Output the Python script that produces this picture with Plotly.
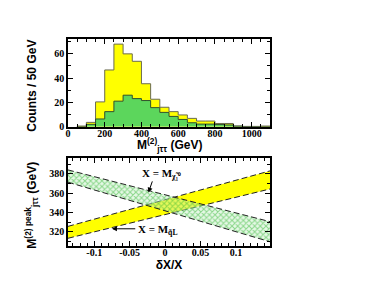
import plotly.graph_objects as go
from plotly.subplots import make_subplots

# ---- top panel data (50 GeV bins, lower edges) ----
bin_low = [50, 100, 150, 200, 250, 300, 350, 400, 450, 500, 550, 600, 650, 700,
           750, 800, 850, 900, 950, 1000, 1050]
bin_width = 50
counts_all = [0.6, 3.6, 20.4, 46.6, 67.8, 59.8, 53.7, 35.3, 22.6, 16.0, 12.4, 9.7,
              6.9, 4.7, 4.7, 2.7, 2.7, 0.6, 0.3, 0.3, 0.6]
counts_sel = [0.0, 2.0, 6.4, 12.4, 21.0, 25.9, 23.1, 21.5, 15.7, 11.8, 8.5, 6.0,
              3.3, 2.2, 2.2, 1.8, 1.5, 0.5, 0.0, 0.0, 0.0]

# ---- bottom panel data ----
dx = [-0.137, 0.148]
chi_upper = [383.9, 330.4]
chi_lower = [371.2, 309.6]
sq_upper = [325.5, 382.9]
sq_lower = [313.2, 364.2]

x_ticks_bottom = [-0.1, -0.05, 0, 0.05, 0.1]
x_ticklabels_bottom = ["-0.1", "-0.05", "0", "0.05", "0.1"]
y_ticks_bottom = [320, 340, 360, 380]
x_ticks_top = [0, 200, 400, 600, 800, 1000]
y_ticks_top = [0, 20, 40, 60]

fig = make_subplots(rows=2, cols=1, vertical_spacing=0.152)


def steps(lows, vals, w):
    xs = [lows[0]] + lows + [lows[-1] + w]
    ys = [0] + vals + [vals[-1]]
    return xs, ys


xa, ya = steps(bin_low, counts_all, bin_width)
xs, ys = steps(bin_low, counts_sel, bin_width)
fig.add_trace(go.Scatter(x=xa, y=ya, mode="lines", line=dict(shape="hv", color="#6b6b50", width=1),
                         fill="tozeroy", fillcolor="#ffff00", showlegend=False), row=1, col=1)
fig.add_trace(go.Scatter(x=xs, y=ys, mode="lines", line=dict(shape="hv", color="#2f4f2f", width=1),
                         fill="tozeroy", fillcolor="#5cd65c", showlegend=False), row=1, col=1)

dash_line = dict(color="#222222", width=1, dash="6px,3px")
# yellow band
fig.add_trace(go.Scatter(x=dx, y=sq_lower, mode="lines", line=dash_line, showlegend=False), row=2, col=1)
fig.add_trace(go.Scatter(x=dx, y=sq_upper, mode="lines", line=dash_line, fill="tonexty",
                         fillcolor="#ffff00", showlegend=False), row=2, col=1)
# green hatched band
fig.add_trace(go.Scatter(x=dx, y=chi_lower, mode="lines", line=dash_line, showlegend=False), row=2, col=1)
fig.add_trace(go.Scatter(x=dx, y=chi_upper, mode="lines", line=dash_line, fill="tonexty",
                         fillcolor="rgba(0,0,0,0)",
                         fillpattern=dict(shape="x", fgcolor="#2fb52f", bgcolor="rgba(200,240,200,0.45)",
                                          size=4, solidity=0.45),
                         showlegend=False), row=2, col=1)

tickfont = dict(family="Liberation Serif", size=10, color="black", weight="bold")
titlefont = dict(family="Liberation Sans", size=12, color="black", weight="bold")
axis_common = dict(showline=True, linecolor="black", linewidth=1.5, mirror="allticks",
                   ticks="inside", ticklen=5, tickwidth=1, tickcolor="black",
                   showgrid=False, zeroline=False, tickfont=tickfont)

fig.update_xaxes(range=[0, 1100], tickvals=x_ticks_top, ticklabelstandoff=-4,
                 minor=dict(ticks="inside", ticklen=3, dtick=50, tickcolor="black"),
                 row=1, col=1, **axis_common)
fig.update_yaxes(range=[0, 72], tickvals=y_ticks_top,
                 minor=dict(ticks="inside", ticklen=3, dtick=10, tickcolor="black"),
                 row=1, col=1, **axis_common)
fig.update_xaxes(range=[-0.137, 0.148], tickvals=x_ticks_bottom, ticktext=x_ticklabels_bottom,
                 ticklabelstandoff=-4,
                 minor=dict(ticks="inside", ticklen=3, dtick=0.01, tickcolor="black"),
                 title=dict(text="δX/X", font=titlefont, standoff=2),
                 row=2, col=1, **axis_common)
fig.update_yaxes(range=[305.2, 396], tickvals=y_ticks_bottom,
                 minor=dict(ticks="inside", ticklen=3, dtick=10, tickcolor="black"),
                 row=2, col=1, **axis_common)

# axis titles as paper annotations
fig.add_annotation(text="M<sup>(2)</sup><sub>jττ</sub> (GeV)", xref="paper", yref="paper",
                   x=0.5, y=0.487, xanchor="center", yanchor="middle",
                   showarrow=False, font=titlefont)
fig.add_annotation(text="Counts / 50 GeV", xref="paper", yref="paper",
                   x=-0.18, y=0.773, xanchor="center", yanchor="middle", textangle=-90,
                   showarrow=False, font=titlefont)
fig.add_annotation(text="M<sup>(2) peak</sup><sub>jττ</sub> (GeV)", xref="paper", yref="paper",
                   x=-0.18, y=0.198, xanchor="center", yanchor="middle", textangle=-90,
                   showarrow=False, font=titlefont)

annfont = dict(family="Liberation Serif", size=11, color="black", weight="bold")

# band labels with arrows
fig.add_annotation(text="X = M<sub>χ̃₁⁰</sub>", x=-0.005, y=380, xanchor="center",
                   showarrow=False, font=annfont, xref="x2", yref="y2")
fig.add_annotation(x=-0.0235, y=360.5, ax=-0.0173, ay=373.6, axref="x2", ayref="y2",
                   xref="x2", yref="y2", text="", showarrow=True, arrowhead=2,
                   arrowsize=1, arrowwidth=1, arrowcolor="black")
fig.add_annotation(text="X = M<sub>q̃L</sub>", x=-0.0105, y=321.5, xanchor="center",
                   showarrow=False, font=annfont, xref="x2", yref="y2")
fig.add_annotation(x=-0.075, y=323, ax=-0.040, ay=323, axref="x2", ayref="y2",
                   xref="x2", yref="y2", text="", showarrow=True, arrowhead=2,
                   arrowsize=1, arrowwidth=1, arrowcolor="black")

fig.update_layout(width=376, height=291, margin=dict(l=60, r=114, t=31, b=53),
                  paper_bgcolor="white", plot_bgcolor="white", showlegend=False)

fig.write_html("out.html")
